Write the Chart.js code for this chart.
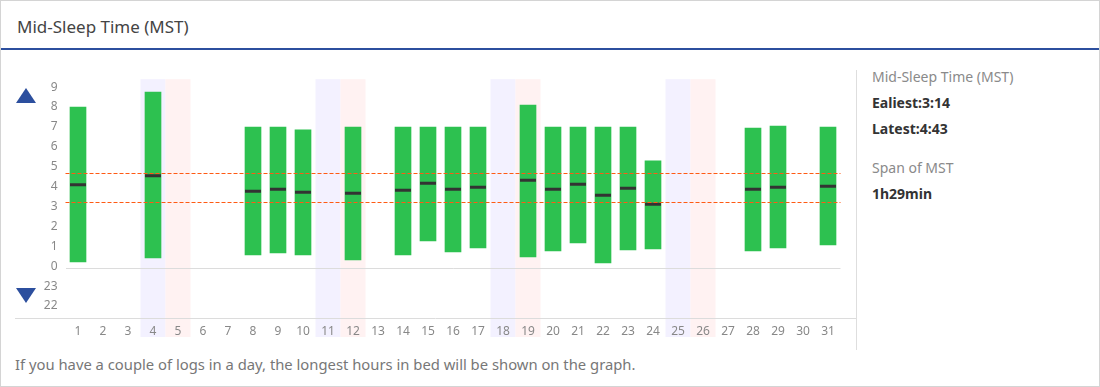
<!DOCTYPE html>
<html>
<head>
<meta charset="utf-8">
<script src="https://cdn.jsdelivr.net/npm/chart.js@4.4.0/dist/chart.umd.min.js"></script>
<style>
  html, body { margin: 0; padding: 0; background: #fff; }
  body { width: 1100px; height: 387px; position: relative; overflow: hidden; font-family: "Noto Sans", sans-serif; }
  #frame { position: absolute; left: 0; top: 0; width: 1098px; height: 385px; border: 1px solid #d4d4d4; }
  #title { position: absolute; left: 17px; top: 14px; line-height: 26px; font-size: 17px; color: #444; }
  #titleLine { position: absolute; left: 1px; top: 48px; width: 1098px; height: 2px; background: #2c4f9e; }
  #chartBox { position: absolute; left: 0; top: 64px; width: 860px; height: 286px; }
  #sep { position: absolute; left: 856px; top: 70px; width: 1px; height: 280px; background: #dedede; }
  .side { position: absolute; left: 872px; font-size: 14px; line-height: 20px; white-space: nowrap; }
  .lbl { color: #8a8a8a; }
  .val { color: #333; font-weight: bold; }
  .tri { position: absolute; left: 16px; width: 0; height: 0; border-left: 10px solid transparent; border-right: 10px solid transparent; }
  #up { top: 88px; border-bottom: 15px solid #2c4f9e; }
  #down { top: 288px; border-top: 15px solid #2c4f9e; }
  #foot { position: absolute; left: 15px; top: 354px; font-size: 14.8px; line-height: 20px; color: #777; white-space: nowrap; }
</style>
</head>
<body>
<div id="frame"></div>
<div id="title">Mid-Sleep Time (MST)</div>
<div id="titleLine"></div>
<div id="chartBox"><canvas id="c" width="860" height="286"></canvas></div>
<div id="sep"></div>
<div class="tri" id="up"></div>
<div class="tri" id="down"></div>
<div class="side lbl" style="top:67px">Mid-Sleep Time (MST)</div>
<div class="side val" style="top:93px">Ealiest:3:14</div>
<div class="side val" style="top:119px">Latest:4:43</div>
<div class="side lbl" style="top:158px">Span of MST</div>
<div class="side val" style="top:184px">1h29min</div>
<div id="foot">If you have a couple of logs in a day, the longest hours in bed will be shown on the graph.</div>
<script>
// Categories (days of the month)
const days = ['1','2','3','4','5','6','7','8','9','10','11','12','13','14','15','16','17','18','19','20','21','22','23','24','25','26','27','28','29','30','31'];
// Hours in bed: bottom (sleep start, hours after midnight) and top (wake-up)
const bedStart = [0.32,null,null,0.52,null,null,null,0.67,0.77,0.67,null,0.42,null,0.67,1.37,0.82,1.02,null,0.57,0.87,1.27,0.27,0.92,0.97,null,null,null,0.87,1.02,null,1.17];
const bedEnd   = [8.10,null,null,8.85,null,null,null,7.10,7.10,6.95,null,7.10,null,7.10,7.10,7.10,7.10,null,8.20,7.10,7.10,7.10,7.10,5.40,null,null,null,7.05,7.15,null,7.10];
// Mid-sleep time for each day
const midSleep = [4.20,null,null,4.65,null,null,null,3.87,3.97,3.82,null,3.77,null,3.92,4.27,3.97,4.07,null,4.42,3.97,4.22,3.67,4.02,3.22,null,null,null,3.97,4.07,null,4.12];
// Reference lines: latest and earliest MST
const refLines = [4.78, 3.33];
// Weekend days
const saturdays = ['4','11','18','25'];
const sundays = ['5','12','19','26'];
// Y tick values and labels (hours, negative = previous day)
const yTickValues = [-2,-1,0,1,2,3,4,5,6,7,8,9];
const yTickLabels = ['22','23','0','1','2','3','4','5','6','7','8','9'];

const barData = days.map((d, i) => bedStart[i] === null ? null : [bedStart[i], bedEnd[i]]);

const bgPlugin = {
  id: 'bg',
  beforeDraw(chart) {
    const ctx = chart.ctx, xs = chart.scales.x, area = chart.chartArea;
    const half = (xs.getPixelForValue(1) - xs.getPixelForValue(0)) / 2;
    const band = (list, color) => {
      list.forEach(d => {
        const idx = days.indexOf(d);
        const cx = xs.getPixelForValue(idx);
        ctx.fillStyle = color;
        ctx.fillRect(cx - half, area.top, half * 2, area.bottom - area.top + 19);
      });
    };
    ctx.save();
    band(saturdays, '#f3f1ff');
    band(sundays, '#fff2f2');
    ctx.restore();
  },
  afterDraw(chart) {
    const ctx = chart.ctx, area = chart.chartArea;
    ctx.save();
    ctx.strokeStyle = '#dcdcdc';
    ctx.lineWidth = 1;
    ctx.beginPath();
    ctx.moveTo(15, Math.round(area.bottom) + 0.5);
    ctx.lineTo(856, Math.round(area.bottom) + 0.5);
    ctx.stroke();
    ctx.restore();
  },
  afterDatasetsDraw(chart) {
    const ctx = chart.ctx, ys = chart.scales.y, area = chart.chartArea;
    ctx.save();
    ctx.strokeStyle = '#ff5a14';
    ctx.lineWidth = 1;
    ctx.setLineDash([4, 2]);
    refLines.forEach(v => {
      const y = Math.round(ys.getPixelForValue(v)) + 0.5;
      ctx.beginPath();
      ctx.moveTo(area.left, y);
      ctx.lineTo(area.right, y);
      ctx.stroke();
    });
    ctx.restore();
  }
};

new Chart(document.getElementById('c'), {
  type: 'bar',
  data: {
    labels: days,
    datasets: [
      {
        type: 'line',
        data: midSleep,
        showLine: false,
        pointStyle: 'line',
        pointRadius: 8,
        pointHoverRadius: 8,
        pointBorderWidth: 3,
        pointBorderColor: '#333',
        borderColor: '#333',
        order: 0
      },
      {
        data: barData,
        backgroundColor: '#2dc150',
        borderWidth: 0,
        borderSkipped: false,
        barThickness: 16,
        order: 1
      }
    ]
  },
  options: {
    responsive: false,
    devicePixelRatio: 1,
    animation: false,
    events: [],
    layout: { padding: { left: 0, right: 19.5, top: 8, bottom: 0 } },
    plugins: { legend: { display: false }, tooltip: { enabled: false } },
    scales: {
      x: {
        offset: true,
        grid: { display: false, drawTicks: false },
        border: { display: false },
        ticks: { color: '#888', font: { family: 'Noto Sans', size: 12 }, padding: 6, maxRotation: 0, autoSkip: false },
        afterFit(s) { s.height = 32; }
      },
      y: {
        min: -2.5,
        max: 9.5,
        afterBuildTicks(axis) { axis.ticks = yTickValues.map(v => ({ value: v })); },
        grid: {
          drawTicks: false,
          color: c => (c.tick && c.tick.value === 0) ? '#dcdcdc' : 'rgba(0,0,0,0)'
        },
        border: { display: false },
        ticks: {
          color: '#888',
          font: { family: 'Noto Sans', size: 12 },
          padding: 8,
          labelOffset: -2,
          callback: (v) => { const i = yTickValues.indexOf(v); return i >= 0 ? yTickLabels[i] : ''; }
        },
        afterFit(s) { s.width = 65.5; }
      }
    }
  },
  plugins: [bgPlugin]
});
</script>
</body>
</html>
